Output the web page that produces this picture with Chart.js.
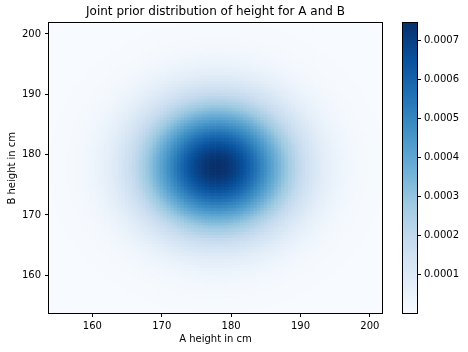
<!DOCTYPE html>
<html>

<head>
    <script src="https://cdn.jsdelivr.net/npm/chart.js@4.4.0/dist/chart.umd.min.js"></script>
</head>

<style>
    body {
        margin: 0;
        background: #fff;
    }

    #wrap {
        position: relative;
        width: 468px;
        height: 352px;
    }

    #heat {
        position: absolute;
        left: 0;
        top: 0;
    }

    #cbar {
        position: absolute;
        left: 395px;
        top: 0;
    }
</style>

<body>
    <div id="wrap">
        <canvas id="heat" width="431" height="352"></canvas>
        <canvas id="cbar" width="73" height="352"></canvas>
    </div>
</body>

<script>
    // heights in cm (grid for both A and B)
    var heights = [154, 154.5, 155, 155.5, 156, 156.5, 157, 157.5, 158, 158.5, 159, 159.5,
        160, 160.5, 161, 161.5, 162, 162.5, 163, 163.5, 164, 164.5, 165, 165.5,
        166, 166.5, 167, 167.5, 168, 168.5, 169, 169.5, 170, 170.5, 171, 171.5,
        172, 172.5, 173, 173.5, 174, 174.5, 175, 175.5, 176, 176.5, 177, 177.5,
        178, 178.5, 179, 179.5, 180, 180.5, 181, 181.5, 182, 182.5, 183, 183.5,
        184, 184.5, 185, 185.5, 186, 186.5, 187, 187.5, 188, 188.5, 189, 189.5,
        190, 190.5, 191, 191.5, 192, 192.5, 193, 193.5, 194, 194.5, 195, 195.5,
        196, 196.5, 197, 197.5, 198, 198.5, 199, 199.5, 200, 200.5, 201, 201.5];

    // prior probability of each height (same prior for A and B)
    var prior = [0.000123, 0.000153, 0.000191, 0.000236, 0.000291, 0.000357, 0.000435, 0.000529, 0.000639, 0.000770,
        0.000922, 0.001100, 0.001305, 0.001542, 0.001813, 0.002121, 0.002470, 0.002863, 0.003304, 0.003794,
        0.004337, 0.004934, 0.005588, 0.006298, 0.007065, 0.007888, 0.008766, 0.009696, 0.010675, 0.011697,
        0.012758, 0.013850, 0.014964, 0.016093, 0.017226, 0.018352, 0.019460, 0.020539, 0.021577, 0.022559,
        0.023477, 0.024318, 0.025071, 0.025726, 0.026275, 0.026710, 0.027025, 0.027216, 0.027280,
        0.027216, 0.027025, 0.026710, 0.026275, 0.025726, 0.025071, 0.024318, 0.023477, 0.022559, 0.021577,
        0.020539, 0.019460, 0.018352, 0.017226, 0.016093, 0.014964, 0.013850, 0.012758, 0.011697, 0.010675,
        0.009696, 0.008766, 0.007888, 0.007065, 0.006298, 0.005588, 0.004934, 0.004337, 0.003794, 0.003304,
        0.002863, 0.002470, 0.002121, 0.001813, 0.001542, 0.001305, 0.001100, 0.000922, 0.000770, 0.000639,
        0.000529, 0.000435, 0.000357, 0.000291, 0.000236, 0.000191, 0.000153];

    var axisTicks = [160, 170, 180, 190, 200];
    var colorbarTicks = [0.0001, 0.0002, 0.0003, 0.0004, 0.0005, 0.0006, 0.0007];

    var bluesStops = ['#f7fbff', '#deebf7', '#c6dbef', '#9ecae1', '#6baed6',
        '#4292c6', '#2171b5', '#08519c', '#08306b'];

    var font = 'DejaVu Sans';

    function hexToRgb(h) {
        return [parseInt(h.substr(1, 2), 16), parseInt(h.substr(3, 2), 16), parseInt(h.substr(5, 2), 16)];
    }
    var stopRgb = bluesStops.map(hexToRgb);

    function blues(t) {
        var idx = Math.min(255, Math.max(0, Math.floor(t * 256)));
        var p = idx / 255 * 8;
        var i = Math.min(7, Math.floor(p));
        var f = p - i;
        var a = stopRgb[i], b = stopRgb[i + 1];
        var c = [0, 1, 2].map(function (k) { return Math.round(a[k] + (b[k] - a[k]) * f); });
        return 'rgb(' + c[0] + ',' + c[1] + ',' + c[2] + ')';
    }

    // joint prior table: rows are B, columns are A
    var joint = [];
    var vmin = Infinity, vmax = -Infinity;
    for (var i = 0; i < heights.length; i++) {
        var row = [];
        for (var j = 0; j < heights.length; j++) {
            var p = prior[i] * prior[j];
            row.push(p);
            if (p < vmin) vmin = p;
            if (p > vmax) vmax = p;
        }
        joint.push(row);
    }

    var half = (heights[1] - heights[0]) / 2;
    var cells = [];
    var cellColors = [];
    for (var i = 0; i < heights.length; i++) {
        for (var j = 0; j < heights.length; j++) {
            cells.push({ x: heights[j], y: [heights[i] - half, heights[i] + half] });
            cellColors.push(blues((joint[i][j] - vmin) / (vmax - vmin)));
        }
    }

    var framePlugin = {
        id: 'frame',
        afterDraw: function (chart) {
            var a = chart.chartArea;
            var ctx = chart.ctx;
            ctx.save();
            ctx.strokeStyle = '#000';
            ctx.lineWidth = 1;
            var l = Math.round(a.left) - 0.5, t = Math.round(a.top) - 0.5;
            var r = Math.round(a.right) + 0.5, b = Math.round(a.bottom) + 0.5;
            ctx.strokeRect(l, t, r - l, b - t);
            ctx.restore();
        }
    };

    function fixedTicks(list) {
        return function (scale) {
            scale.ticks = list.map(function (v) { return { value: v }; });
        };
    }

    new Chart(document.getElementById('heat'), {
        type: 'bar',
        data: {
            datasets: [{
                data: cells,
                backgroundColor: cellColors,
                borderWidth: 0,
                barPercentage: 1,
                categoryPercentage: 1
            }]
        },
        options: {
            responsive: false,
            animation: false,
            events: [],
            layout: { padding: 0 },
            plugins: {
                legend: { display: false },
                tooltip: { enabled: false },
                title: {
                    display: true,
                    text: 'Joint prior distribution of height for A and B',
                    color: '#000',
                    font: { family: font, size: 12, weight: 'normal' },
                    padding: { top: 5, bottom: 4 }
                }
            },
            scales: {
                x: {
                    type: 'linear',
                    min: 153.75,
                    max: 201.75,
                    offset: false,
                    afterBuildTicks: fixedTicks(axisTicks),
                    afterFit: function (s) { s.height = 39; },
                    grid: { offset: false, drawOnChartArea: false, drawTicks: true, tickLength: 4, color: '#000' },
                    border: { display: false },
                    ticks: {
                        color: '#000', padding: 3, maxRotation: 0,
                        font: { family: font, size: 10 }
                    },
                    title: {
                        display: true, text: 'A height in cm', color: '#000',
                        font: { family: font, size: 10 }, padding: { top: 0, bottom: 7 }
                    }
                },
                y: {
                    type: 'linear',
                    min: 153.75,
                    max: 201.75,
                    afterBuildTicks: fixedTicks(axisTicks),
                    afterFit: function (s) { s.width = 49; },
                    grid: { drawOnChartArea: false, drawTicks: true, tickLength: 4, color: '#000' },
                    border: { display: false },
                    ticks: {
                        color: '#000', padding: 4,
                        font: { family: font, size: 10 }
                    },
                    title: {
                        display: true, text: 'B height in cm', color: '#000',
                        font: { family: font, size: 10 }, padding: { top: 6, bottom: 0 }
                    }
                },
                // empty right-hand spacer so the title centres over the plot
                yPad: {
                    type: 'linear',
                    position: 'right',
                    display: true,
                    afterFit: function (s) { s.width = 49; },
                    grid: { display: false },
                    border: { display: false },
                    ticks: { display: false }
                }
            }
        },
        plugins: [framePlugin]
    });

    new Chart(document.getElementById('cbar'), {
        type: 'bar',
        data: {
            labels: [''],
            datasets: [{
                data: [[vmin, vmax]],
                borderWidth: 0,
                barPercentage: 1,
                categoryPercentage: 1,
                backgroundColor: function (ctx) {
                    var c = ctx.chart;
                    if (!c.chartArea) return bluesStops[8];
                    var y = c.scales.y;
                    var g = c.ctx.createLinearGradient(0, y.getPixelForValue(vmin), 0, y.getPixelForValue(vmax));
                    bluesStops.forEach(function (s, k) { g.addColorStop(k / 8, s); });
                    return g;
                }
            }]
        },
        options: {
            responsive: false,
            animation: false,
            events: [],
            layout: { padding: { left: 8, top: 23, right: 0, bottom: 39 } },
            plugins: {
                legend: { display: false },
                tooltip: { enabled: false }
            },
            scales: {
                x: { display: false },
                y: {
                    position: 'right',
                    min: vmin,
                    max: vmax,
                    afterBuildTicks: fixedTicks(colorbarTicks),
                    afterFit: function (s) { s.width = 51; },
                    grid: { drawOnChartArea: false, drawTicks: true, tickLength: 4, color: '#000' },
                    border: { display: false },
                    ticks: {
                        color: '#000', padding: 3,
                        font: { family: font, size: 10 },
                        callback: function (v) { return v.toFixed(4); }
                    }
                }
            }
        },
        plugins: [framePlugin]
    });
</script>

</html>
